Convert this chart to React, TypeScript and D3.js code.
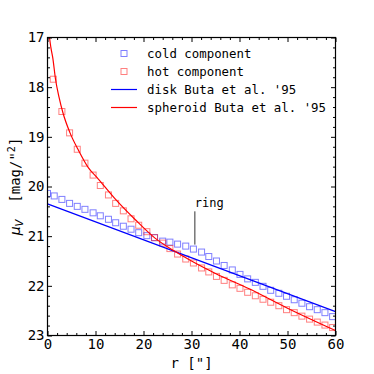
import { useEffect, useRef } from "react";
import * as d3 from "d3";

// radii of the cold (disk) component profile, arcsec
const coldRadius = [
  0, 1.4, 3.0, 4.6, 6.2, 7.8, 9.5, 11.0, 12.7, 14.2, 15.8, 17.4, 19.0, 20.7, 22.3, 24.0, 25.5, 27.1, 28.8,
  30.4, 32.1, 33.6, 35.2, 36.8, 38.5, 40.1, 41.7, 43.3, 44.9, 46.5, 48.2, 49.8, 51.4, 53.0, 54.6, 56.2, 57.8, 59.4,
];
const coldMu = [
  20.14, 20.19, 20.26, 20.34, 20.4, 20.46, 20.53, 20.59, 20.66, 20.73, 20.8, 20.86, 20.93, 20.99, 21.03, 21.1, 21.12,
  21.16, 21.2, 21.26, 21.32, 21.41, 21.5, 21.59, 21.68, 21.77, 21.86, 21.93, 22.01, 22.09, 22.15, 22.21, 22.28, 22.35,
  22.42, 22.48, 22.54, 22.62,
];

const hotRadius = [
  1.2, 3.0, 4.6, 6.2, 7.8, 9.5, 11.0, 12.7, 14.2, 15.8, 17.4, 19.0, 20.7, 22.3, 24.0, 25.5, 27.1, 28.8, 30.4, 32.1,
  33.6, 35.2, 36.8, 38.5, 40.1, 41.7, 43.3, 44.9, 46.5, 48.2, 49.8, 51.4, 53.0, 54.6, 56.2, 57.8, 59.4,
];
const hotMu = [
  17.84, 18.49, 18.92, 19.25, 19.53, 19.77, 19.98, 20.17, 20.34, 20.49, 20.65, 20.78, 20.91, 21.03, 21.14, 21.25,
  21.36, 21.46, 21.54, 21.64, 21.72, 21.81, 21.89, 21.98, 22.05, 22.13, 22.2, 22.27, 22.33, 22.4, 22.48, 22.54, 22.61,
  22.67, 22.73, 22.79, 22.84,
];

// Buta et al. '95 model profiles
const diskRadius = [0, 60];
const diskMu = [20.35, 22.52];
const spheroidRadius = [0.42, 0.7, 1.1, 1.67, 2.4, 3.2, 4.65, 6.5, 8.5, 10.5, 14.0, 18.3, 22.4, 26.6, 30, 35, 42, 50, 60];
const spheroidMu = [
  17.0, 17.2, 17.41, 17.84, 18.2, 18.51, 18.91, 19.28, 19.62, 19.84, 20.24, 20.67, 21.04, 21.31, 21.5, 21.75, 22.06,
  22.45, 22.9,
];

const xTicks = [0, 10, 20, 30, 40, 50, 60];
const yTicks = [17, 18, 19, 20, 21, 22, 23];
const legendLabels = ["cold component", "hot component", "disk Buta et al. '95", "spheroid Buta et al. '95"];
const ringRadius = 30.7;
const ringLabel = "ring";

export default function App() {
  const svgRef = useRef<SVGSVGElement>(null);

  useEffect(() => {
    const width = 374;
    const height = 374;
    const mono = "'DejaVu Sans Mono', monospace";
    const blueMark = "rgba(0,0,255,0.5)";
    const redMark = "rgba(255,0,0,0.5)";

    const svg = d3.select(svgRef.current);
    svg.selectAll("*").remove();
    svg.attr("width", width).attr("height", height).attr("viewBox", `0 0 ${width} ${height}`);

    const x = d3.scaleLinear().domain([0, 60]).range([47.5, 335.5]);
    const y = d3.scaleLinear().domain([17, 23]).range([37.5, 335.5]);

    svg.append("rect").attr("width", width).attr("height", height).attr("fill", "#fff");

    svg
      .append("defs")
      .append("clipPath")
      .attr("id", "plot-clip")
      .append("rect")
      .attr("x", x(0))
      .attr("y", y(17))
      .attr("width", x(60) - x(0))
      .attr("height", y(23) - y(17));

    const plot = svg.append("g").attr("clip-path", "url(#plot-clip)");

    const cold = coldRadius.map((r, i) => ({ r, mu: coldMu[i] }));
    const hot = hotRadius.map((r, i) => ({ r, mu: hotMu[i] }));
    const disk = diskRadius.map((r, i) => ({ r, mu: diskMu[i] }));
    const spheroid = spheroidRadius.map((r, i) => ({ r, mu: spheroidMu[i] }));

    const line = d3
      .line<{ r: number; mu: number }>()
      .x((d) => x(d.r))
      .y((d) => y(d.mu))
      .curve(d3.curveMonotoneX);

    const sq = 6;
    plot
      .selectAll("rect.cold")
      .data(cold)
      .join("rect")
      .attr("class", "cold")
      .attr("x", (d) => x(d.r) - sq / 2)
      .attr("y", (d) => y(d.mu) - sq / 2)
      .attr("width", sq)
      .attr("height", sq)
      .attr("fill", "none")
      .attr("stroke", blueMark);

    plot
      .selectAll("rect.hot")
      .data(hot)
      .join("rect")
      .attr("class", "hot")
      .attr("x", (d) => x(d.r) - sq / 2)
      .attr("y", (d) => y(d.mu) - sq / 2)
      .attr("width", sq)
      .attr("height", sq)
      .attr("fill", "none")
      .attr("stroke", redMark);

    plot.append("path").datum(disk).attr("d", line).attr("fill", "none").attr("stroke", "#0000ff").attr("stroke-width", 1.2);
    plot
      .append("path")
      .datum(spheroid)
      .attr("d", line)
      .attr("fill", "none")
      .attr("stroke", "#ff0000")
      .attr("stroke-width", 1.2);

    // ring annotation
    svg
      .append("line")
      .attr("x1", x(ringRadius))
      .attr("x2", x(ringRadius))
      .attr("y1", y(20.5))
      .attr("y2", y(21.17))
      .attr("stroke", "#333")
      .attr("stroke-width", 1);
    svg
      .append("text")
      .attr("x", x(ringRadius))
      .attr("y", y(20.42))
      .attr("font-family", mono)
      .attr("font-size", 12)
      .text(ringLabel);

    // ticks, all pointing inward
    const minorX = d3.range(0, 61, 2).filter((v) => v % 10 !== 0);
    const minorY = d3.range(17, 23.001, 0.2).filter((v) => Math.abs(v - Math.round(v)) > 0.01);
    const fmt = d3.format("d");

    const axes = svg.append("g").attr("font-family", mono);
    const addAxis = (axis: d3.Axis<number>, transform: string) => {
      const g = axes.append("g").attr("transform", transform).call(axis as any);
      g.select(".domain").remove();
      g.selectAll("line").attr("stroke", "#000");
      g.selectAll("text").attr("font-family", mono).attr("font-size", 14).attr("fill", "#000");
      return g;
    };

    addAxis(
      d3.axisBottom<number>(x).tickValues(xTicks).tickSize(-4.5).tickPadding(4).tickFormat(fmt),
      `translate(0,${y(23)})`
    );
    addAxis(d3.axisBottom<number>(x).tickValues(minorX).tickSize(-2.5).tickFormat(() => ""), `translate(0,${y(23)})`);
    addAxis(d3.axisTop<number>(x).tickValues(xTicks).tickSize(-4.5).tickFormat(() => ""), `translate(0,${y(17)})`);
    addAxis(d3.axisTop<number>(x).tickValues(minorX).tickSize(-2.5).tickFormat(() => ""), `translate(0,${y(17)})`);
    addAxis(
      d3.axisLeft<number>(y).tickValues(yTicks).tickSize(-4.5).tickPadding(3).tickFormat(fmt),
      `translate(${x(0)},0)`
    );
    addAxis(d3.axisLeft<number>(y).tickValues(minorY).tickSize(-2.5).tickFormat(() => ""), `translate(${x(0)},0)`);
    addAxis(d3.axisRight<number>(y).tickValues(yTicks).tickSize(-4.5).tickFormat(() => ""), `translate(${x(60)},0)`);
    addAxis(d3.axisRight<number>(y).tickValues(minorY).tickSize(-2.5).tickFormat(() => ""), `translate(${x(60)},0)`);

    svg
      .append("rect")
      .attr("x", x(0))
      .attr("y", y(17))
      .attr("width", x(60) - x(0))
      .attr("height", y(23) - y(17))
      .attr("fill", "none")
      .attr("stroke", "#000")
      .attr("stroke-width", 1.2);

    // legend
    const legend = svg.append("g").attr("transform", "translate(111,53.5)");
    legendLabels.forEach((label, i) => {
      const row = legend.append("g").attr("transform", `translate(0,${i * 18})`);
      if (i < 2) {
        row
          .append("rect")
          .attr("x", 13 - sq / 2)
          .attr("y", -sq / 2)
          .attr("width", sq)
          .attr("height", sq)
          .attr("fill", "none")
          .attr("stroke", i === 0 ? blueMark : redMark);
      } else {
        row
          .append("line")
          .attr("x1", 0)
          .attr("x2", 26)
          .attr("stroke", i === 2 ? "#0000ff" : "#ff0000")
          .attr("stroke-width", 1.2);
      }
      row
        .append("text")
        .attr("x", 36)
        .attr("y", 4.5)
        .attr("font-family", mono)
        .attr("font-size", 12.4)
        .text(label);
    });

    // axis labels
    svg
      .append("text")
      .attr("x", (x(0) + x(60)) / 2)
      .attr("y", 368)
      .attr("text-anchor", "middle")
      .attr("font-family", mono)
      .attr("font-size", 14)
      .text('r ["]');

    const yLabel = svg
      .append("text")
      .attr("transform", `translate(19.5,${(y(17) + y(23)) / 2}) rotate(-90)`)
      .attr("text-anchor", "middle")
      .attr("font-family", mono)
      .attr("font-size", 14);
    yLabel.append("tspan").attr("font-family", "'DejaVu Sans', sans-serif").attr("font-style", "italic").text("μ");
    yLabel
      .append("tspan")
      .attr("font-family", "'DejaVu Sans', sans-serif")
      .attr("font-style", "italic")
      .attr("font-size", 10)
      .attr("dy", 3)
      .text("V");
    yLabel.append("tspan").attr("dy", -3).text("\u00a0\u00a0[mag/\"");
    yLabel.append("tspan").attr("font-size", 10).attr("dy", -5).text("2");
    yLabel.append("tspan").attr("dy", 5).text("]");
  }, []);

  return <svg ref={svgRef} style={{ position: "absolute", left: 0, top: 0 }} />;
}
